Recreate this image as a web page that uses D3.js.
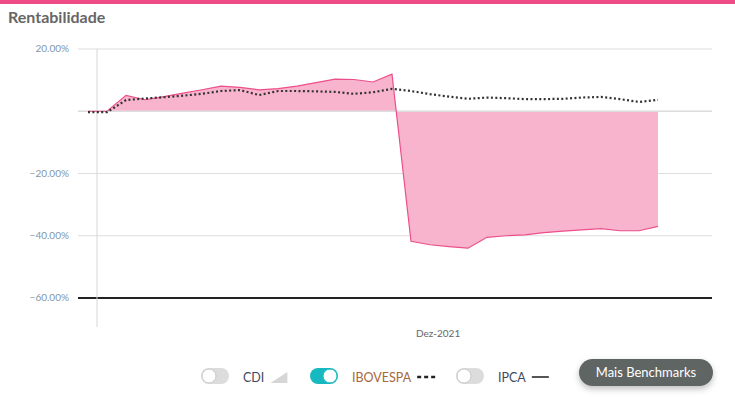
<html>
<head>
<meta charset="utf-8">
<script src="https://d3js.org/d3.v7.min.js"></script>
<style>
  body { margin: 0; background: #fff; font-family: Lato, "Open Sans", sans-serif; }
  svg text { font-family: Lato, "Open Sans", sans-serif; }
</style>
</head>
<body>
<svg id="chart" width="735" height="397"></svg>
<script>
// weekly points, first one on 2021-07-25
var dates = ["2021-07-25","2021-08-01","2021-08-08","2021-08-15","2021-08-22","2021-08-29","2021-09-05",
  "2021-09-12","2021-09-19","2021-09-26","2021-10-03","2021-10-10","2021-10-17","2021-10-24","2021-10-31",
  "2021-11-07","2021-11-14","2021-11-21","2021-11-28","2021-12-05","2021-12-12","2021-12-19","2021-12-26",
  "2022-01-02","2022-01-09","2022-01-16","2022-01-23","2022-01-30","2022-02-06","2022-02-13","2022-02-20"]
var fundo = [0, 0, 5.1, 3.7, 4.7, 5.8, 6.9, 8.1, 7.7, 6.9, 7.3, 8.1, 9.2, 10.3, 10.2, 9.4, 11.9,
  -41.8, -42.9, -43.5, -44.0, -40.5, -40.0, -39.7, -39.0, -38.5, -38.1, -37.7, -38.4, -38.4, -37.0]
var ibovespa = [-0.3, -0.3, 3.6, 4.1, 4.5, 5.0, 5.6, 6.5, 6.8, 5.2, 6.5, 6.5, 6.4, 6.2, 5.6, 6.1, 7.2,
  6.5, 5.5, 4.7, 4.0, 4.4, 4.2, 3.9, 3.9, 4.0, 4.4, 4.6, 3.9, 3.0, 3.7]
var yTicks = [20, 0, -20, -40, -60]
var xTicks = ["2021-12-01"]
var meses = ["Jan","Fev","Mar","Abr","Mai","Jun","Jul","Ago","Set","Out","Nov","Dez"]
var legenda = [
  {nome: "CDI", ativo: false, icone: "tri"},
  {nome: "IBOVESPA", ativo: true, icone: "dots"},
  {nome: "IPCA", ativo: false, icone: "line"}
]

var parse = d3.utcParse("%Y-%m-%d")
var data = dates.map(function(d, i) { return {date: parse(d), f: fundo[i], b: ibovespa[i]} })

var svg = d3.select("#chart")

// top pink bar + title
svg.append("rect").attr("x", 0).attr("y", 0).attr("width", 735).attr("height", 4).attr("fill", "#ee4b87")
svg.append("text").attr("x", 8).attr("y", 23).text("Rentabilidade")
  .attr("font-size", 16).attr("font-weight", "bold").attr("fill", "#666")

var x = d3.scaleUtc().domain([data[0].date, data[data.length - 1].date]).range([88, 658])
var y = d3.scaleLinear().domain([-60, 20]).range([298, 49])

// grid
var grid = svg.append("g")
grid.selectAll("line").data(yTicks).enter().append("line")
  .attr("x1", 78).attr("x2", 712)
  .attr("y1", function(d) { return y(d) }).attr("y2", function(d) { return y(d) })
  .attr("stroke", function(d) { return d == -60 ? "#222" : "#ddd" })
  .attr("stroke-width", function(d) { return d == -60 ? 2 : 1 })
svg.append("line").attr("x1", 97).attr("x2", 97).attr("y1", 49).attr("y2", 327)
  .attr("stroke", "#d6d6d6")

// y labels
svg.append("g").selectAll("text").data(yTicks.filter(function(d) { return d != 0 })).enter().append("text")
  .attr("x", 69).attr("y", function(d) { return y(d) }).attr("dy", "0.32em")
  .attr("text-anchor", "end").attr("font-size", 10).attr("fill", "#8396a8")
  .text(function(d) { return d3.format(".2f")(d) + "%" })

// x labels
svg.append("g").selectAll("text").data(xTicks).enter().append("text")
  .attr("x", function(d) { return x(parse(d)) }).attr("y", 337)
  .attr("text-anchor", "middle").attr("font-size", 10).attr("fill", "#666")
  .text(function(d) { var t = parse(d); return meses[t.getUTCMonth()] + "-" + t.getUTCFullYear() })

// fund area
var area = d3.area().x(function(d) { return x(d.date) }).y0(y(0)).y1(function(d) { return y(d.f) })
var line = d3.line().x(function(d) { return x(d.date) }).y(function(d) { return y(d.f) })
svg.append("path").datum(data).attr("d", area).attr("fill", "#f8b4cc")
svg.append("line").attr("x1", 78).attr("x2", 712).attr("y1", y(0)).attr("y2", y(0))
  .attr("stroke", "#ddd").attr("stroke-width", 1.5)
svg.append("path").datum(data).attr("d", line).attr("fill", "none")
  .attr("stroke", "#ec4f8b").attr("stroke-width", 1.2)

// ibovespa
var lineB = d3.line().x(function(d) { return x(d.date) }).y(function(d) { return y(d.b) })
svg.append("path").datum(data).attr("d", lineB).attr("fill", "none")
  .attr("stroke", "#333").attr("stroke-width", 2.2).attr("stroke-dasharray", "2,2.4")

// legend
var leg = svg.append("g")
var lx = [201, 310, 456]
legenda.forEach(function(l, i) {
  var g = leg.append("g").attr("transform", "translate(" + lx[i] + ",368)")
  g.append("rect").attr("width", 28).attr("height", 16).attr("rx", 8)
    .attr("fill", l.ativo ? "#17b9c1" : "#dcdcdc")
  g.append("circle").attr("cx", l.ativo ? 20 : 8).attr("cy", 8).attr("r", 7)
    .attr("fill", "#fff").attr("stroke", l.ativo ? "#17b9c1" : "#c8c8c8").attr("stroke-width", 1)
  var t = g.append("text").attr("x", 42).attr("y", 14).attr("font-size", 12.5)
    .attr("fill", l.nome == "IBOVESPA" ? "#a8683a" : "#3f4a5c").text(l.nome)
  var w = t.node().getComputedTextLength()
  var ix = 42 + w + 6
  if (l.icone == "tri") {
    g.append("path").attr("d", "M" + ix + ",15L" + (ix + 17) + ",4L" + (ix + 17) + ",15Z").attr("fill", "#d6d6d6")
  } else if (l.icone == "dots") {
    g.append("line").attr("x1", ix).attr("x2", ix + 18).attr("y1", 9).attr("y2", 9)
      .attr("stroke", "#222").attr("stroke-width", 2.5).attr("stroke-dasharray", "4,3")
  } else {
    g.append("line").attr("x1", ix).attr("x2", ix + 17).attr("y1", 9).attr("y2", 9)
      .attr("stroke", "#555").attr("stroke-width", 2)
  }
})

// button
var defs = svg.append("defs")
var f = defs.append("filter").attr("id", "sh").attr("x", "-20%").attr("y", "-40%").attr("width", "140%").attr("height", "200%")
f.append("feDropShadow").attr("dx", 0).attr("dy", 3).attr("stdDeviation", 3).attr("flood-color", "#000").attr("flood-opacity", 0.25)
svg.append("rect").attr("x", 579).attr("y", 359).attr("width", 134).attr("height", 27).attr("rx", 13.5)
  .attr("fill", "#5e6563").attr("filter", "url(#sh)")
svg.append("text").attr("x", 646).attr("y", 377).attr("text-anchor", "middle")
  .attr("font-size", 13).attr("fill", "#fff").text("Mais Benchmarks")
</script>
</body>
</html>
